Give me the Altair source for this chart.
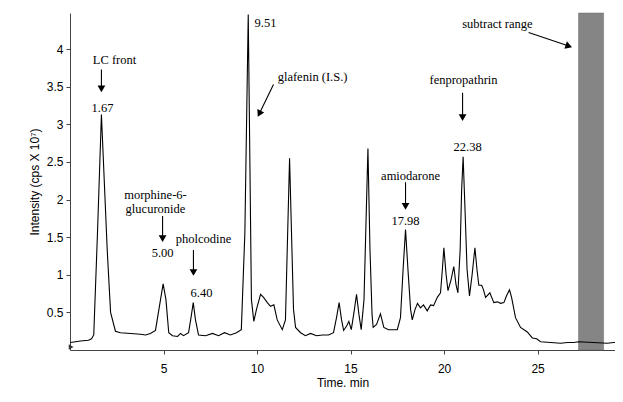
import altair as alt
import pandas as pd

# Chromatogram trace (time in min, intensity in cps x 10^7)
time_min = [0.03, 0.56, 0.99, 1.15, 1.27, 1.47, 1.68, 1.99, 2.17, 2.43, 2.70, 3.24, 3.77, 4.04, 4.30,
            4.57, 4.84, 4.98, 5.13, 5.28, 5.48, 5.75, 5.91, 6.07, 6.34, 6.47, 6.59, 6.71, 6.87, 7.25,
            7.62, 7.94, 8.26, 8.58, 8.90, 9.16, 9.35, 9.53, 9.70, 9.83, 9.97, 10.19, 10.35, 10.55, 10.72,
            10.90, 11.08, 11.35, 11.52, 11.74, 11.95, 12.06, 12.33, 12.59, 12.86, 13.18, 13.50, 13.82, 14.09,
            14.25, 14.39, 14.52, 14.63, 14.79, 14.91, 15.04, 15.19, 15.32, 15.45, 15.57, 15.72, 15.83, 15.93,
            16.04, 16.15, 16.21, 16.39, 16.60, 16.78, 17.03, 17.30, 17.50, 17.67, 17.81, 17.94, 18.07, 18.21,
            18.30, 18.45, 18.58, 18.74, 18.90, 19.10, 19.28, 19.44, 19.64, 19.81, 19.91, 19.99, 20.11, 20.21,
            20.37, 20.52, 20.64, 20.74, 20.86, 20.94, 21.02, 21.12, 21.23, 21.36, 21.50, 21.65, 21.76, 21.86,
            22.01, 22.11, 22.22, 22.45, 22.66, 22.86, 23.02, 23.20, 23.34, 23.50, 23.61, 23.82, 24.09, 24.45,
            24.72, 24.95, 25.16, 25.70, 26.23, 26.60, 26.94, 27.19, 28.73, 29.06, 29.44, 29.60]
intensity = [0.10, 0.12, 0.13, 0.15, 0.20, 1.56, 3.13, 1.33, 0.50, 0.25, 0.23, 0.22, 0.21, 0.20, 0.22,
             0.26, 0.67, 0.88, 0.67, 0.23, 0.19, 0.18, 0.22, 0.19, 0.23, 0.43, 0.63, 0.40, 0.20, 0.19,
             0.22, 0.19, 0.23, 0.20, 0.23, 0.27, 1.56, 4.46, 0.67, 0.38, 0.54, 0.74, 0.70, 0.63, 0.58,
             0.60, 0.40, 0.27, 0.40, 2.55, 0.54, 0.30, 0.23, 0.19, 0.22, 0.19, 0.20, 0.20, 0.23,
             0.43, 0.63, 0.40, 0.26, 0.32, 0.38, 0.27, 0.51, 0.74, 0.47, 0.27, 0.67, 1.73, 2.68,
             1.33, 0.47, 0.30, 0.34, 0.48, 0.30, 0.27, 0.27, 0.27, 0.43, 1.07, 1.60, 1.07, 0.54,
             0.40, 0.54, 0.62, 0.56, 0.60, 0.52, 0.60, 0.59, 0.70, 0.76, 1.07, 1.36, 1.00, 0.79,
             0.93, 1.11, 0.87, 0.76, 1.33, 2.13, 2.57, 1.87, 1.07, 0.72, 1.00, 1.36, 1.07, 0.86,
             0.86, 0.80, 0.70, 0.76, 0.63, 0.64, 0.62, 0.63, 0.72, 0.80, 0.70, 0.43, 0.30, 0.24,
             0.16, 0.15, 0.11, 0.10, 0.09, 0.10, 0.10, 0.11, 0.09, 0.10, 0.10, 0.10]

# Subtract range band
band_start = [27.19]
band_end = [28.53]

# Annotations
ann_text = ["LC front", "1.67", "morphine-6-", "glucuronide", "5.00", "pholcodine", "6.40", "9.51",
            "glafenin (I.S.)", "amiodarone", "17.98", "fenpropathrin", "22.38", "subtract range"]
ann_t = [2.38, 1.74, 4.57, 4.57, 4.95, 7.14, 7.03, 10.45, 12.97, 18.21, 17.94, 21.04, 21.26, 22.85]
ann_i = [3.86, 3.22, 2.06, 1.87, 1.29, 1.48, 0.76, 4.35, 3.63, 2.31, 1.71, 3.59, 2.70, 4.33]

# Arrows: shaft start / end and head
arr_t1 = [1.68, 4.95, 6.60, 10.88, 17.94, 20.99, 24.52]
arr_i1 = [3.73, 1.78, 1.33, 3.53, 2.23, 3.42, 4.22]
arr_t2 = [1.68, 4.95, 6.60, 10.12, 17.94, 20.99, 26.67]
arr_i2 = [3.47, 1.48, 1.03, 3.14, 1.91, 3.09, 4.04]
head_angle = [180, 180, 180, 206.6, 180, 180, 108.8]

trace = pd.DataFrame({"t": time_min, "i": intensity})
band = pd.DataFrame({"t1": band_start, "t2": band_end})
ann = pd.DataFrame({"text": ann_text, "t": ann_t, "i": ann_i})
arr = pd.DataFrame({"t1": arr_t1, "i1": arr_i1, "t2": arr_t2, "i2": arr_i2, "ang": head_angle})
origin = pd.DataFrame({"t": [0.06], "i": [0.04]})

XMAX = 29.14
YMAX = 4.48
xs = alt.Scale(domain=[0, XMAX], nice=False, zero=False)
ys = alt.Scale(domain=[0, YMAX], nice=False, zero=False)

line = alt.Chart(trace).mark_line(color="black", strokeWidth=1.1, clip=True).encode(
    x=alt.X("t:Q", scale=xs, title="Time. min",
            axis=alt.Axis(values=[5, 10, 15, 20, 25], grid=False)),
    y=alt.Y("i:Q", scale=ys, title="Intensity (cps X 10⁷)",
            axis=alt.Axis(values=[0.5, 1, 1.5, 2, 2.5, 3, 3.5, 4], grid=False, format="~g")),
)

band_mark = alt.Chart(band).mark_rect(color="#858585", stroke="#6a6a6a", strokeWidth=0.5).encode(
    x="t1:Q", x2="t2:Q", y=alt.datum(0), y2=alt.datum(YMAX)
)

texts = alt.Chart(ann).mark_text(font="Liberation Serif", fontSize=12.5, color="black",
                                 align="center", baseline="middle").encode(
    x="t:Q", y="i:Q", text="text:N"
)

shafts = alt.Chart(arr).mark_rule(color="black", strokeWidth=1.1).encode(
    x="t1:Q", y="i1:Q", x2="t2:Q", y2="i2:Q"
)

heads = alt.Chart(arr).mark_point(shape="triangle-up", filled=True, color="black",
                                  opacity=1, size=60).encode(
    x="t2:Q", y="i2:Q", angle=alt.Angle("ang:Q", scale=None)
)

orig = alt.Chart(origin).mark_point(shape="triangle-right", filled=True, color="#333333",
                                    opacity=1, size=30, clip=False).encode(x="t:Q", y="i:Q")

chart = alt.layer(band_mark, line, shafts, heads, texts, orig).properties(
    width=545, height=337,
    autosize=alt.AutoSizeParams(type="none"),
    padding={"left": 62, "top": 5, "right": 0, "bottom": 39},
).configure_view(stroke=None).configure_axis(
    labelFont="Liberation Sans", labelFontSize=12, labelColor="black",
    titleFont="Liberation Sans", titleFontSize=12, titleFontWeight="normal", titleColor="black",
    domainColor="#444444", tickColor="#444444", tickSize=4,
).configure_axisX(labelPadding=9, titlePadding=3).configure_axisY(labelPadding=3, titlePadding=5)

chart.save("out.html", embed_options={"renderer": "svg", "actions": False})
